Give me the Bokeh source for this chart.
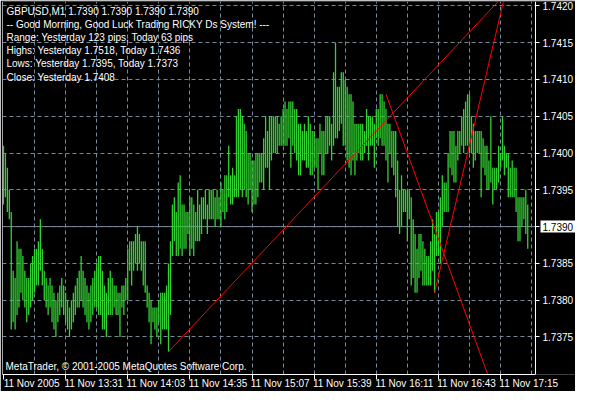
from bokeh.plotting import figure
from bokeh.models import (FixedTicker, Label, Range1d, PrintfTickFormatter,
                          ColumnDataSource, LinearAxis, Grid)
from bokeh.embed import file_html
from bokeh.resources import INLINE

# ---------------- data ----------------
highs = [
    1.7401, 1.7400, 1.7398, 1.7395, 1.7392, 1.7384, 1.7383, 1.7388, 1.7387, 1.7387,
    1.7386, 1.7384, 1.7383, 1.7383, 1.7385, 1.7386, 1.7387, 1.7387, 1.7388, 1.7391,
    1.7387, 1.7384, 1.7383, 1.7382, 1.7383, 1.7382, 1.7381, 1.7380, 1.7381, 1.7382,
    1.7383, 1.7382, 1.7381, 1.7380, 1.7379, 1.7380, 1.7381, 1.7382, 1.7383, 1.7384,
    1.7386, 1.7384, 1.7383, 1.7382, 1.7381, 1.7382, 1.7383, 1.7384, 1.7385, 1.7386,
    1.7386, 1.7384, 1.7382, 1.7381, 1.7383, 1.7384, 1.7383, 1.7382, 1.7382, 1.7381,
    1.7381, 1.7382, 1.7382, 1.7383, 1.7387, 1.7388, 1.7388, 1.7388, 1.7389, 1.7390,
    1.7389, 1.7388, 1.7388, 1.7388, 1.7382, 1.7381, 1.7380, 1.7379, 1.7379, 1.7379,
    1.7380, 1.7381, 1.7381, 1.7381, 1.7382, 1.7385, 1.7388, 1.7393, 1.7394, 1.7392,
    1.7396, 1.7397, 1.7393, 1.7393, 1.7392, 1.7392, 1.7394, 1.7394, 1.7393, 1.7392,
    1.7395, 1.7393, 1.7394, 1.7394, 1.7395, 1.7393, 1.7395, 1.7395, 1.7395, 1.7394,
    1.7395, 1.7394, 1.7396, 1.7395, 1.7397, 1.7397, 1.7401, 1.7397, 1.7398, 1.7397,
    1.7405, 1.7406, 1.7406, 1.7405, 1.7404, 1.7403, 1.7400, 1.7400, 1.7399, 1.7399,
    1.7400, 1.7400, 1.7400, 1.7400, 1.7402, 1.7405, 1.7403, 1.7405, 1.7405, 1.7405,
    1.7405, 1.7405, 1.7404, 1.7405, 1.7406, 1.7407, 1.7406, 1.7407, 1.7407, 1.7407,
    1.7406, 1.7406, 1.7404, 1.7404, 1.7403, 1.7404, 1.7403, 1.7405, 1.7404, 1.7403,
    1.7403, 1.7402, 1.7402, 1.7404, 1.7403, 1.7403, 1.7405, 1.7405, 1.7405, 1.7404,
    1.7411, 1.7415, 1.7409, 1.7409, 1.7411, 1.7411, 1.7410, 1.7409, 1.7408, 1.7408,
    1.7407, 1.7404, 1.7404, 1.7404, 1.7404, 1.7404, 1.7403, 1.7406, 1.7405, 1.7405,
    1.7405, 1.7404, 1.7406, 1.7406, 1.7408, 1.7408, 1.7407, 1.7406, 1.7404, 1.7404,
    1.7403, 1.7403, 1.7403, 1.7399, 1.7395, 1.7397, 1.7395, 1.7395, 1.7395, 1.7395,
    1.7394, 1.7391, 1.7389, 1.7387, 1.7389, 1.7389, 1.7388, 1.7387, 1.7386, 1.7386,
    1.7388, 1.7391, 1.7389, 1.7392, 1.7392, 1.7394, 1.7397, 1.7396, 1.7396, 1.7400,
    1.7403, 1.7403, 1.7403, 1.7401, 1.7403, 1.7403, 1.7405, 1.7406, 1.7407, 1.7408,
    1.7408, 1.7405, 1.7404, 1.7403, 1.7403, 1.7403, 1.7403, 1.7402, 1.7401, 1.7401,
    1.7399, 1.7405, 1.7398, 1.7398, 1.7398, 1.7401, 1.7400, 1.7405, 1.7401, 1.7400,
    1.7400, 1.7398, 1.7399, 1.7398, 1.7398, 1.7394, 1.7394, 1.7394, 1.7394, 1.7395,
    1.7393,
]
lows = [
    1.7393, 1.7394, 1.7392, 1.7391, 1.7376, 1.7377, 1.7376, 1.7378, 1.7379, 1.7381,
    1.7380, 1.7379, 1.7377, 1.7378, 1.7379, 1.7380, 1.7381, 1.7382, 1.7382, 1.7384,
    1.7382, 1.7380, 1.7379, 1.7378, 1.7379, 1.7377, 1.7376, 1.7375, 1.7377, 1.7378,
    1.7379, 1.7378, 1.7377, 1.7376, 1.7375, 1.7376, 1.7377, 1.7378, 1.7379, 1.7379,
    1.7380, 1.7379, 1.7378, 1.7377, 1.7376, 1.7377, 1.7378, 1.7379, 1.7379, 1.7378,
    1.7378, 1.7376, 1.7376, 1.7375, 1.7378, 1.7378, 1.7378, 1.7379, 1.7378, 1.7378,
    1.7375, 1.7379, 1.7378, 1.7380, 1.7380, 1.7384, 1.7382, 1.7384, 1.7385, 1.7384,
    1.7385, 1.7384, 1.7382, 1.7381, 1.7379, 1.7377, 1.7374, 1.7377, 1.7376, 1.7375,
    1.7377, 1.7374, 1.7376, 1.7376, 1.7376, 1.7373, 1.7378, 1.7386, 1.7388, 1.7386,
    1.7386, 1.7387, 1.7386, 1.7387, 1.7387, 1.7389, 1.7386, 1.7387, 1.7386, 1.7388,
    1.7388, 1.7388, 1.7389, 1.7391, 1.7391, 1.7389, 1.7391, 1.7391, 1.7391, 1.7390,
    1.7391, 1.7391, 1.7390, 1.7392, 1.7391, 1.7392, 1.7394, 1.7393, 1.7393, 1.7394,
    1.7394, 1.7394, 1.7395, 1.7394, 1.7395, 1.7394, 1.7393, 1.7395, 1.7392, 1.7393,
    1.7393, 1.7394, 1.7396, 1.7396, 1.7395, 1.7398, 1.7398, 1.7395, 1.7399, 1.7400,
    1.7400, 1.7400, 1.7401, 1.7401, 1.7401, 1.7401, 1.7401, 1.7402, 1.7398, 1.7401,
    1.7400, 1.7399, 1.7397, 1.7397, 1.7399, 1.7399, 1.7398, 1.7398, 1.7397, 1.7397,
    1.7398, 1.7398, 1.7395, 1.7400, 1.7397, 1.7397, 1.7400, 1.7400, 1.7401, 1.7399,
    1.7401, 1.7402, 1.7402, 1.7403, 1.7404, 1.7401, 1.7401, 1.7399, 1.7398, 1.7397,
    1.7399, 1.7397, 1.7399, 1.7400, 1.7399, 1.7399, 1.7400, 1.7401, 1.7399, 1.7401,
    1.7401, 1.7398, 1.7402, 1.7401, 1.7402, 1.7401, 1.7401, 1.7399, 1.7396, 1.7400,
    1.7398, 1.7397, 1.7394, 1.7390, 1.7389, 1.7390, 1.7392, 1.7392, 1.7388, 1.7391,
    1.7382, 1.7383, 1.7381, 1.7381, 1.7383, 1.7384, 1.7382, 1.7382, 1.7382, 1.7382,
    1.7382, 1.7384, 1.7381, 1.7386, 1.7386, 1.7385, 1.7390, 1.7392, 1.7392, 1.7392,
    1.7398, 1.7397, 1.7396, 1.7396, 1.7399, 1.7400, 1.7401, 1.7400, 1.7401, 1.7401,
    1.7400, 1.7400, 1.7398, 1.7399, 1.7400, 1.7400, 1.7394, 1.7398, 1.7397, 1.7395,
    1.7395, 1.7396, 1.7393, 1.7395, 1.7395, 1.7396, 1.7398, 1.7399, 1.7397, 1.7398,
    1.7394, 1.7394, 1.7394, 1.7394, 1.7392, 1.7388, 1.7388, 1.7390, 1.7391, 1.7389,
    1.7387,
]
bar_index = list(range(len(highs)))

current_price = 1.7390

# trend lines: (bar index, price) pairs
trend_x = [[85, 274], [197, 274], [222, 274]]
trend_y = [[1.7373, 1.7426], [1.7408, 1.7352], [1.7381, 1.7439]]

y_ticks = [1.7375, 1.7380, 1.7385, 1.7390, 1.7395, 1.7400, 1.7405, 1.7410, 1.7415, 1.7420]
x_ticks = [0, 32, 64, 96, 128, 160, 192, 224, 256]
x_labels = ["11 Nov 2005", "11 Nov 13:31", "11 Nov 14:03", "11 Nov 14:35", "11 Nov 15:07",
            "11 Nov 15:39", "11 Nov 16:11", "11 Nov 16:43", "11 Nov 17:15"]
x_grid = list(range(16, 273, 16))

info_lines = [
    "GBPUSD,M1  1.7390 1.7390 1.7390 1.7390",
    "-- Good Morning, Good Luck Trading RICKY Ds System! ---",
    "Range: Yesterday 123 pips, Today 63 pips",
    "Highs: Yesterday 1.7518, Today 1.7436",
    "Lows:  Yesterday 1.7395, Today 1.7373",
    "Close: Yesterday 1.7408",
]
copyright_text = "MetaTrader, \u00a9 2001-2005 MetaQuotes Software Corp."

# ---------------- style ----------------
FRAME_W, FRAME_H = 573, 373      # whole drawing area (chart + price scale)
CHART_W = 533                    # chart part, the price scale takes the rest
XMIN, XB = -0.5, 274             # chart left edge / chart right border (bars)
XEND = XB + (FRAME_W - CHART_W) * (XB - XMIN) / CHART_W
YMIN, YMAX = 1.73699, 1.74206
FONT = "Liberation Sans"
FS = "10px"
BAR_COLOR = "#32D232"
GRID_COLOR = "#778899"
LABEL_SHIFT = 14.5   # bars: puts the date labels to the right of their tick

p = figure(frame_width=FRAME_W, frame_height=FRAME_H, output_backend="svg", toolbar_location=None,
           x_range=Range1d(XMIN, XEND), y_range=Range1d(YMIN, YMAX),
           x_axis_location="below", y_axis_location="right",
           background_fill_color="black", border_fill_color="black",
           min_border_left=2, min_border_top=1, min_border_right=0, min_border_bottom=0)
p.outline_line_color = None


def style_axis(ax):
    ax.axis_line_color = "white"
    ax.major_tick_line_color = "white"
    ax.minor_tick_line_color = None
    ax.major_tick_in = 0
    ax.major_tick_out = 4
    ax.major_label_text_color = "white"
    ax.major_label_text_font = FONT
    ax.major_label_text_font_size = FS


# price scale: drawn at the chart's right border
ya = p.yaxis[0]
style_axis(ya)
ya.fixed_location = XB
ya.ticker = FixedTicker(ticks=y_ticks)
ya.formatter = PrintfTickFormatter(format="%.4f")
ya.major_label_standoff = 3

# left border of the chart
left_border = LinearAxis(fixed_location=XMIN, ticker=FixedTicker(ticks=[]))
style_axis(left_border)
left_border.major_tick_line_color = None
p.add_layout(left_border, "left")

# time scale: tick marks, then labels left-aligned to the ticks on a second axis
xa = p.xaxis[0]
style_axis(xa)
xa.bounds = (XMIN, XB)
xa.ticker = FixedTicker(ticks=x_ticks)
xa.major_tick_out = 5
xa.major_label_overrides = {t: "" for t in x_ticks}
xa.major_label_text_font_size = "1px"
xa.major_label_standoff = 0

label_ticks = [t + LABEL_SHIFT for t in x_ticks]
lab_axis = LinearAxis(ticker=FixedTicker(ticks=label_ticks),
                      major_label_overrides=dict(zip(label_ticks, x_labels)))
style_axis(lab_axis)
lab_axis.axis_line_color = None
lab_axis.major_tick_line_color = None
lab_axis.major_tick_out = 0
lab_axis.major_label_standoff = -2
p.add_layout(lab_axis, "below")

# grids
p.xgrid[0].ticker = FixedTicker(ticks=x_grid)
p.ygrid[0].ticker = FixedTicker(ticks=y_ticks)
if "cross_bounds" in Grid.properties():
    p.ygrid[0].cross_bounds = (XMIN, XB)
for g in (p.xgrid[0], p.ygrid[0]):
    g.grid_line_color = GRID_COLOR
    g.grid_line_dash = "4 3"
    g.grid_line_width = 1

# current price line
p.line(x=[XMIN, XB], y=[current_price, current_price], line_color=GRID_COLOR, line_width=1)

# bars
src = ColumnDataSource(dict(i=bar_index, high=highs, low=lows))
p.segment(x0="i", y0="low", x1="i", y1="high", source=src, line_color=BAR_COLOR, line_width=1.3)

# trend lines
p.multi_line(xs=trend_x, ys=trend_y, line_color="#FF0000", line_width=1)

# texts
p.add_layout(Label(x=XMIN, y=YMAX, x_offset=4, y_offset=-4, text="\n".join(info_lines),
                   text_color="white", text_font=FONT, text_font_size=FS,
                   text_baseline="top", text_align="left", text_line_height=1.2))
p.add_layout(Label(x=XMIN, y=YMIN, x_offset=3, y_offset=3, text=copyright_text,
                   text_color="white", text_font=FONT, text_font_size=FS,
                   text_baseline="bottom", text_align="left"))
# current-price box on the price scale
p.add_layout(Label(x=XB, y=current_price, x_offset=5, text="1.7390",
                   text_color="black", text_font=FONT, text_font_size=FS,
                   text_baseline="middle", text_align="left",
                   background_fill_color="white", padding=2))

open("out.html", "w").write(file_html(p, INLINE))
